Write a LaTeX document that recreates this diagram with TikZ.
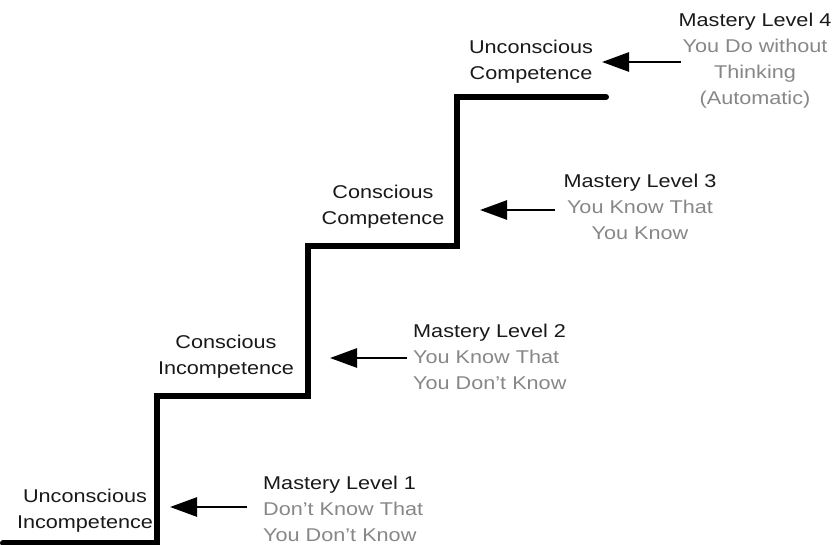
\documentclass[tikz,border=0pt]{standalone}
\usepackage{fontspec}
\setmainfont{Liberation Sans}[FakeStretch=1.17]
\usetikzlibrary{arrows.meta}
\definecolor{txtgray}{RGB}{135,135,135}
\definecolor{txtblack}{RGB}{25,25,25}
\begin{document}
\begin{tikzpicture}[x=1pt,y=-1pt,
  lbl/.style={font=\fontsize{18.5}{26}\selectfont, text=txtblack, align=center, inner sep=0pt, anchor=north},
  mlleft/.style={font=\fontsize{18.5}{26}\selectfont, text=txtblack, align=left, inner sep=0pt, anchor=north west},
  mlcenter/.style={font=\fontsize{18.5}{26}\selectfont, text=txtblack, align=center, inner sep=0pt, anchor=north},
  arr/.style={line width=2.7pt, -{Triangle[length=27pt,width=19pt]}},
  stair/.style={line width=6pt, line cap=round}]
\useasboundingbox (0,0) rectangle (837,545);
% staircase
\draw[stair] (3,543) -- (157,543) -- (157,396) -- (308,396) -- (308,246) -- (457,246) -- (457,97) -- (606,97);
% stage labels
\node[lbl] (s1) at (85,488.7) {Unconscious\\Incompetence};
\node[lbl] (s2) at (226,334.7) {Conscious\\Incompetence};
\node[lbl] (s3) at (383,184.7) {Conscious\\Competence};
\node[lbl] (s4) at (531,39.7) {Unconscious\\Competence};
% mastery labels
\node[mlleft] (m1) at (263,475.7) {Mastery Level 1\\\textcolor{txtgray}{Don’t Know That}\\\textcolor{txtgray}{You Don’t Know}};
\node[mlleft] (m2) at (413,323.7) {Mastery Level 2\\\textcolor{txtgray}{You Know That}\\\textcolor{txtgray}{You Don’t Know}};
\node[mlcenter] (m3) at (640,173.7) {Mastery Level 3\\\textcolor{txtgray}{You Know That}\\\textcolor{txtgray}{You Know}};
\node[mlcenter] (m4) at (755,12.7) {Mastery Level 4\\\textcolor{txtgray}{You Do without}\\\textcolor{txtgray}{Thinking}\\\textcolor{txtgray}{(Automatic)}};
% arrow ends
\coordinate (t1) at (247,507); \coordinate (h1) at (170,507);
\coordinate (t2) at (407,358); \coordinate (h2) at (330,358);
\coordinate (t3) at (555,210); \coordinate (h3) at (480,210);
\coordinate (t4) at (681,62);  \coordinate (h4) at (602,62);
\draw[arr] (t1) -- (h1);
\draw[arr] (t2) -- (h2);
\draw[arr] (t3) -- (h3);
\draw[arr] (t4) -- (h4);
\end{tikzpicture}
\end{document}
